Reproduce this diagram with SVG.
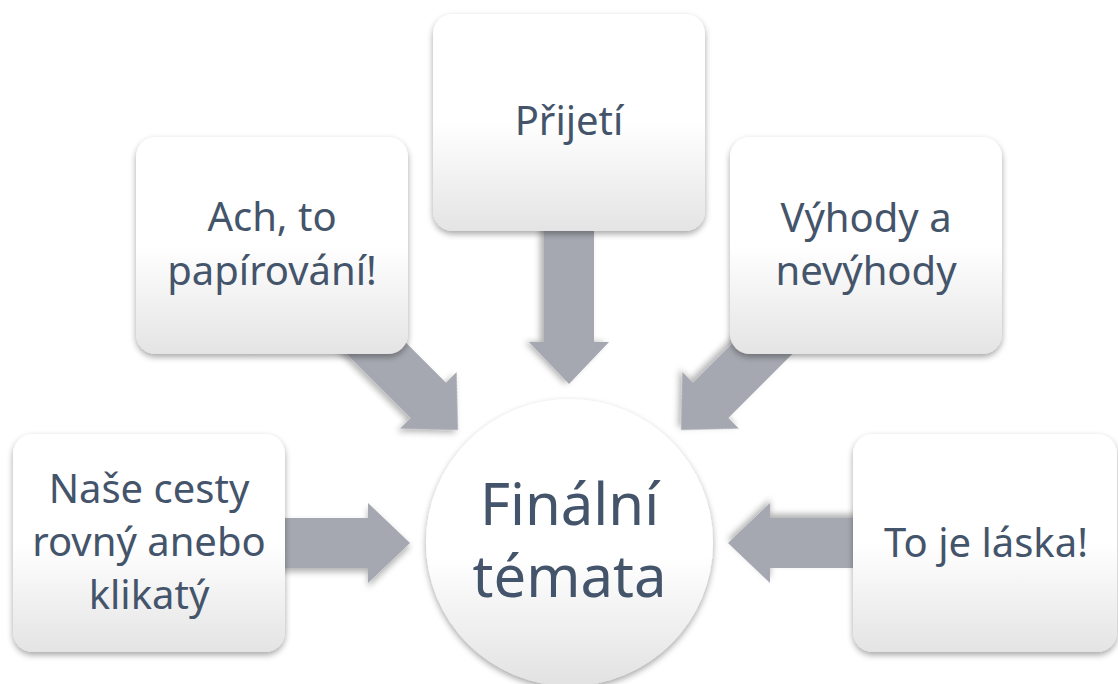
<svg xmlns="http://www.w3.org/2000/svg" width="1118" height="684" viewBox="0 0 1118 684">
<defs>
<linearGradient id="boxg" x1="0" y1="0" x2="0" y2="1">
<stop offset="0" stop-color="#ffffff"/>
<stop offset="0.5" stop-color="#ffffff"/>
<stop offset="1" stop-color="#e4e4e4"/>
</linearGradient>
<linearGradient id="circg" x1="0" y1="0" x2="0" y2="1">
<stop offset="0" stop-color="#ffffff"/>
<stop offset="0.55" stop-color="#ffffff"/>
<stop offset="1" stop-color="#e2e2e2"/>
</linearGradient>
<linearGradient id="arrg" gradientUnits="objectBoundingBox" x1="0" y1="0" x2="0" y2="1">
<stop offset="0" stop-color="#b3b6bd"/>
<stop offset="1" stop-color="#9c9fa8"/>
</linearGradient>
<filter id="sh" x="-20%" y="-20%" width="140%" height="140%">
<feDropShadow dx="0" dy="3" stdDeviation="3" flood-color="#000" flood-opacity="0.35"/>
</filter>
<filter id="ash" x="-20%" y="-20%" width="140%" height="140%">
<feDropShadow dx="0" dy="4" stdDeviation="3" flood-color="#000" flood-opacity="0.3"/>
</filter>
<path id="arrow" d="M0,0 L-42,-40 L-42,-25 L-170,-25 L-170,25 L-42,25 L-42,40 Z"/>
</defs>
<style>
.box{fill:url(#boxg);filter:url(#sh)}
.circ{fill:url(#circg);filter:url(#sh)}
.arr{fill:#a5a8b0;filter:url(#ash)}
.t{font-family:"Noto Sans","Open Sans",sans-serif;font-size:40px;fill:#44546a;text-anchor:middle}
.tb{font-family:"Noto Sans","Open Sans",sans-serif;font-size:58px;fill:#44546a;text-anchor:middle}
</style>
<rect width="1118" height="684" fill="#ffffff"/>
<g id="connectors">
<use href="#arrow" class="arr" transform="translate(569,384) rotate(90)"/>
<use href="#arrow" class="arr" transform="translate(458,430) rotate(45)"/>
<use href="#arrow" class="arr" transform="translate(681,430) rotate(135)"/>
<use href="#arrow" class="arr" transform="translate(410,543)"/>
<use href="#arrow" class="arr" transform="translate(728,543) rotate(180)"/>
</g>
<g id="node-prijeti">
<rect class="box" x="433" y="14" width="272" height="217" rx="20"/>
<text class="t" x="569" y="135">Přijetí</text>
</g>
<g id="node-ach">
<rect class="box" x="136" y="137" width="272" height="217" rx="20"/>
<text class="t" x="272" y="231">Ach, to</text>
<text class="t" x="272" y="285">papírování!</text>
</g>
<g id="node-vyhody">
<rect class="box" x="730" y="137" width="272" height="217" rx="20"/>
<text class="t" x="866" y="232">Výhody a</text>
<text class="t" x="866" y="285">nevýhody</text>
</g>
<g id="node-nase">
<rect class="box" x="13" y="434" width="272" height="218" rx="20"/>
<text class="t" x="149" y="503">Naše cesty</text>
<text class="t" x="149" y="556">rovný anebo</text>
<text class="t" x="149" y="609">klikatý</text>
</g>
<g id="node-laska">
<rect class="box" x="853" y="434" width="264" height="218" rx="20"/>
<text class="t" x="986" y="557">To je láska!</text>
</g>
<g id="node-final">
<circle class="circ" cx="569.5" cy="542.5" r="143.5"/>
<text class="tb" x="569.5" y="525">Finální</text>
<text class="tb" x="569.5" y="597">témata</text>
</g>
</svg>
